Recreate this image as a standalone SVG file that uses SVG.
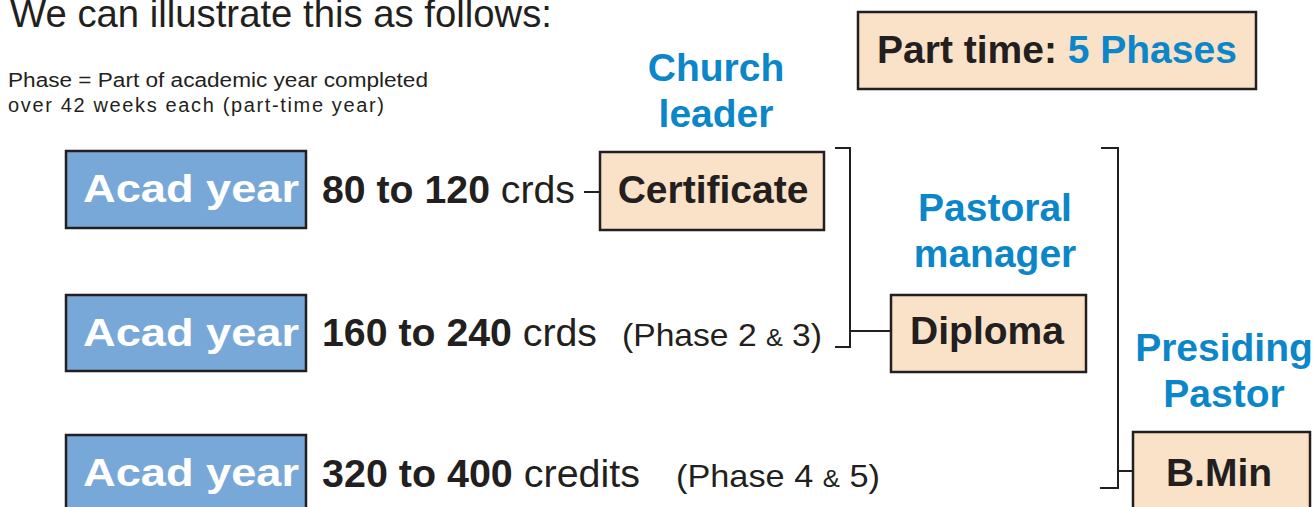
<svg xmlns="http://www.w3.org/2000/svg" width="1315" height="507" viewBox="0 0 1315 507">
<style>
.bg{fill:#ffffff}
.blue{fill:#78a8d8;stroke:#231f20;stroke-width:2.5}
.peach{fill:#f9e2c8;stroke:#231f20;stroke-width:2.5}
.wt{font-family:"Liberation Sans",Arial,sans-serif;font-weight:bold;font-size:39px;fill:#ffffff}
.bt{font-family:"Liberation Sans",Arial,sans-serif;font-weight:bold;font-size:39px;fill:#231f20}
.rt{font-family:"Liberation Sans",Arial,sans-serif;font-size:39px;fill:#231f20}
.pt{font-family:"Liberation Sans",Arial,sans-serif;font-size:32px;fill:#231f20}
.role{font-family:"Liberation Sans",Arial,sans-serif;font-weight:bold;font-size:39px;fill:#0b86c8;text-anchor:middle}
.note{font-family:"Liberation Sans",Arial,sans-serif;font-size:20px;fill:#231f20}
.line{fill:none;stroke:#231f20;stroke-width:2}
</style>
<rect class="bg" x="0" y="0" width="1315" height="507"/>
<text class="rt" x="10" y="27" textLength="542" lengthAdjust="spacingAndGlyphs">We can illustrate this as follows:</text>
<text class="note" x="8" y="87" textLength="420" lengthAdjust="spacingAndGlyphs">Phase = Part of academic year completed</text>
<text class="note" x="8" y="112" textLength="376" lengthAdjust="spacing">over 42 weeks each (part-time year)</text>

<g id="parttime">
<rect class="peach" x="858" y="12" width="398" height="77"/>
<text class="bt" x="877" y="63">Part time: <tspan fill="#0b86c8">5 Phases</tspan></text>
</g>

<g id="role-church"><text class="role" x="716" y="81">Church</text><text class="role" x="716" y="127">leader</text></g>
<g id="role-pastoral"><text class="role" x="995" y="221">Pastoral</text><text class="role" x="995" y="267">manager</text></g>
<g id="role-presiding"><text class="role" x="1224" y="361">Presiding</text><text class="role" x="1224" y="407">Pastor</text></g>

<g id="row1">
<rect class="blue" x="66" y="151" width="240" height="77"/>
<text class="wt" x="83" y="202" textLength="216" lengthAdjust="spacingAndGlyphs">Acad year</text>
<text class="bt" x="322" y="203" textLength="253" lengthAdjust="spacingAndGlyphs">80 to 120 <tspan font-weight="normal">crds</tspan></text>
</g>
<g id="row2">
<rect class="blue" x="66" y="295" width="240" height="76"/>
<text class="wt" x="83" y="346" textLength="216" lengthAdjust="spacingAndGlyphs">Acad year</text>
<text class="bt" x="322" y="346" textLength="275" lengthAdjust="spacingAndGlyphs">160 to 240 <tspan font-weight="normal">crds</tspan></text>
<text class="pt" x="622" y="346" textLength="200" lengthAdjust="spacingAndGlyphs">(Phase 2 <tspan font-size="24">&amp;</tspan> 3)</text>
</g>
<g id="row3">
<rect class="blue" x="66" y="435" width="240" height="80"/>
<text class="wt" x="83" y="486" textLength="216" lengthAdjust="spacingAndGlyphs">Acad year</text>
<text class="bt" x="322" y="487" textLength="318" lengthAdjust="spacingAndGlyphs">320 to 400 <tspan font-weight="normal">credits</tspan></text>
<text class="pt" x="676" y="487" textLength="204" lengthAdjust="spacingAndGlyphs">(Phase 4 <tspan font-size="24">&amp;</tspan> 5)</text>
</g>

<g id="certificate">
<rect class="peach" x="600" y="152" width="224" height="78"/>
<text class="bt" x="713" y="203" text-anchor="middle">Certificate</text>
</g>
<g id="diploma">
<rect class="peach" x="891" y="295" width="195" height="77"/>
<text class="bt" x="987" y="344" text-anchor="middle">Diploma</text>
</g>
<g id="bmin">
<rect class="peach" x="1133" y="432" width="177" height="85"/>
<text class="bt" x="1219" y="486" text-anchor="middle">B.Min</text>
</g>

<g id="connectors">
<line class="line" x1="584" y1="192" x2="600" y2="192"/>
<polyline class="line" points="835,148 850,148 850,347 835,347"/>
<line class="line" x1="850" y1="331" x2="891" y2="331"/>
<polyline class="line" points="1101,148 1118,148 1118,488 1100,488"/>
<line class="line" x1="1118" y1="471" x2="1133" y2="471"/>
</g>
</svg>
